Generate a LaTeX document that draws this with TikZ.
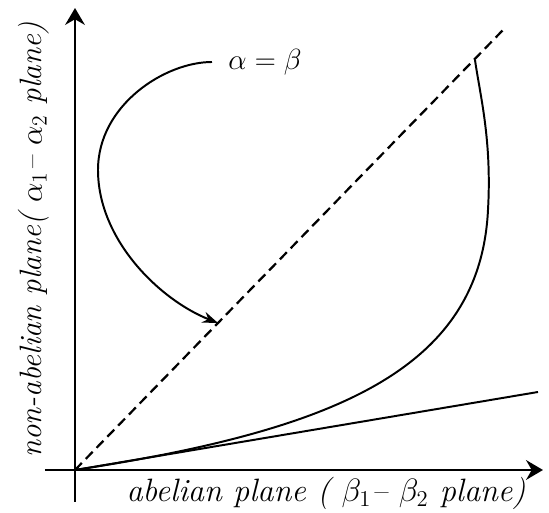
\RequirePackage{fix-cm}
\documentclass[tikz,border=0pt]{standalone}
\usetikzlibrary{arrows.meta}
\begin{document}
\begin{tikzpicture}[x=0.025cm, y=0.025cm, font=\huge\itshape, line width=1.4pt,
  axis/.style={line width=1.8pt, -{Stealth[length=12pt, width=14pt, inset=4pt]}},
  loopy/.style={line width=1.4pt, -{Stealth[length=11pt, width=8pt]}},
  axislabel/.style={font=\fontsize{23}{27}\selectfont\itshape}]
  \useasboundingbox (-75,-43) rectangle (474,470);
  \coordinate (O) at (0,0);
  \coordinate (top) at (428,440);
  \coordinate (hit) at (143,147);
  \draw[axis] (-30,0) -- (468,0);
  \draw[axis] (0,-32) -- (0,462);
  \draw[line width=1.6pt, dash pattern=on 7pt off 4pt] (O) -- (top);
  \draw (O) -- (463,78);
  \draw (O) .. controls (260,40) and (405,100) .. (413,260)
    .. controls (417,330) and (405,375) .. (400,410);
  \node[anchor=west, inner xsep=11pt] (eq) at (137,408) {$\alpha=\beta$};
  \draw[loopy] (eq.west) .. controls (90,408) and (23,365) .. (23,300)
    .. controls (23,230) and (85,170) .. (hit);
  \node[axislabel, anchor=base] (xlab) at (251,-32) {abelian plane ( $\beta_1$-- $\beta_2$ plane)};
  \node[axislabel, font=\fontsize{22}{26}\selectfont\itshape, rotate=90, anchor=base] (ylab) at (-33,230) {non-abelian plane( $\alpha_1$-- $\alpha_2$ plane)};
\end{tikzpicture}
\end{document}
